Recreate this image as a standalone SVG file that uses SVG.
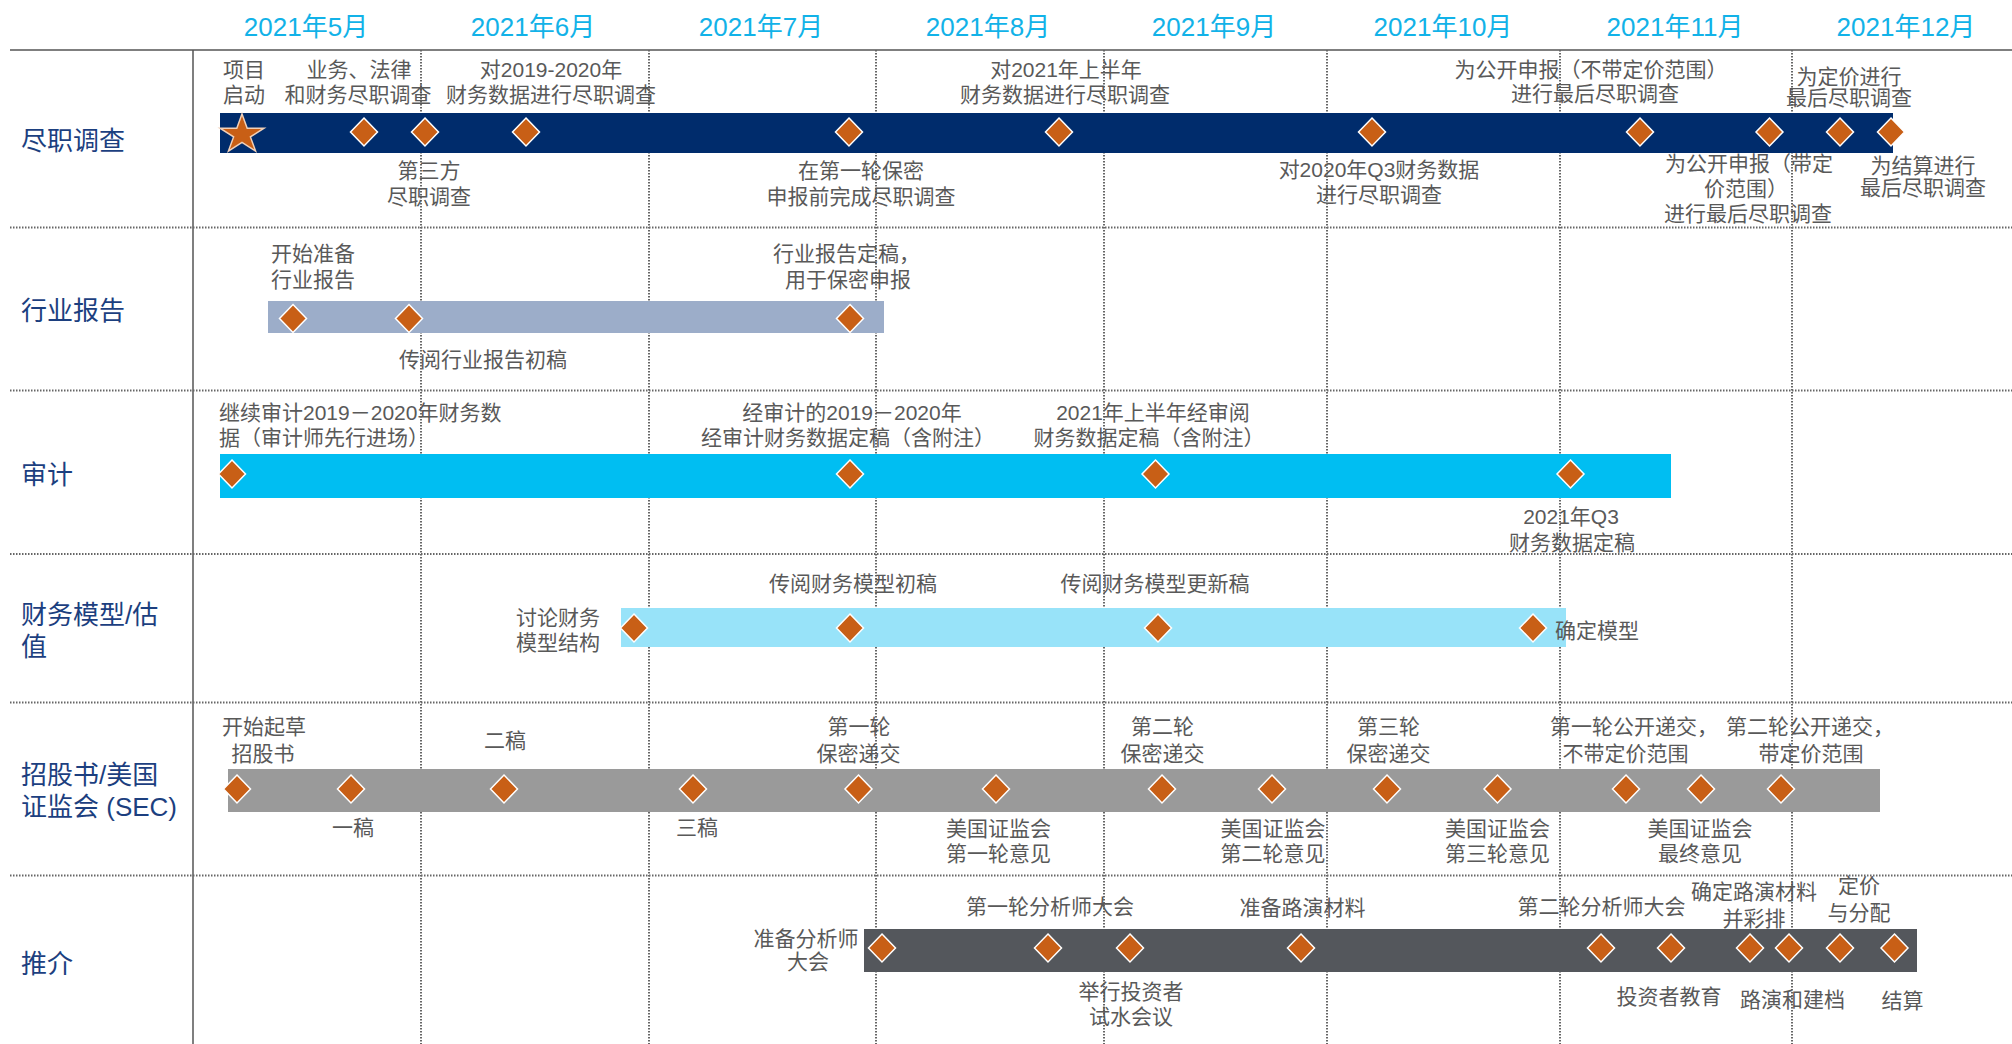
<svg xmlns="http://www.w3.org/2000/svg" xmlns:xlink="http://www.w3.org/1999/xlink" width="2012" height="1044" viewBox="0 0 2012 1044">
<style>
.m{font-family:"Liberation Sans","Noto Sans CJK SC",sans-serif;font-size:26px;fill:#12B2E8;text-anchor:middle}
.r{font-family:"Noto Sans CJK SC",sans-serif;font-size:26px;fill:#1C3F7F}
.rs{font-family:"Liberation Sans","Noto Sans CJK SC",sans-serif;font-size:26px;fill:#1C3F7F}
.t{font-family:"Liberation Sans","Noto Sans CJK SC",sans-serif;font-size:21px;fill:#595959;text-anchor:middle}
.s{text-anchor:start}
.dot{stroke:#666;stroke-width:2;stroke-dasharray:1.5 1.5;fill:none}
</style>
<defs>
<path id="dia" d="M0,-14 L13.5,0 L0,14 L-13.5,0Z" fill="#C85F16" stroke="#FFFFFF" stroke-width="1.5"/>
</defs>
<rect width="2012" height="1044" fill="#FFFFFF"/>

<g id="grid">
<line x1="10" y1="50" x2="2012" y2="50" stroke="#7F7F7F" stroke-width="2"/>
<line x1="193" y1="50" x2="193" y2="1044" stroke="#555" stroke-width="1.5"/>
<line class="dot" x1="421" y1="50" x2="421" y2="1044"/>
<line class="dot" x1="649" y1="50" x2="649" y2="1044"/>
<line class="dot" x1="876" y1="50" x2="876" y2="1044"/>
<line class="dot" x1="1104" y1="50" x2="1104" y2="1044"/>
<line class="dot" x1="1327" y1="50" x2="1327" y2="1044"/>
<line class="dot" x1="1560" y1="50" x2="1560" y2="1044"/>
<line class="dot" x1="1792" y1="50" x2="1792" y2="1044"/>
<line class="dot" x1="10" y1="227.5" x2="2012" y2="227.5"/>
<line class="dot" x1="10" y1="390.5" x2="2012" y2="390.5"/>
<line class="dot" x1="10" y1="554" x2="2012" y2="554"/>
<line class="dot" x1="10" y1="702.5" x2="2012" y2="702.5"/>
<line class="dot" x1="10" y1="875.5" x2="2012" y2="875.5"/>
</g>

<g id="months">
<text class="m" x="306" y="36">2021年5月</text>
<text class="m" x="533" y="36">2021年6月</text>
<text class="m" x="761" y="36">2021年7月</text>
<text class="m" x="988" y="36">2021年8月</text>
<text class="m" x="1214" y="36">2021年9月</text>
<text class="m" x="1443" y="36">2021年10月</text>
<text class="m" x="1675" y="36">2021年11月</text>
<text class="m" x="1906" y="36">2021年12月</text>
</g>

<g id="connectors"></g>

<g id="row-dd">
<text class="r" x="21" y="150">尽职调查</text>
<rect x="220" y="113" width="1673" height="40" fill="#002C6C"/>
<polygon points="242,114 247.2,128.2 264,128.2 250.4,136.9 255.6,151.1 242,142.3 228.4,151.1 233.6,136.9 220,128.2 236.8,128.2" fill="#C85F16" stroke="#F0D0B8" stroke-width="1.5"/>
<use xlink:href="#dia" x="364" y="132"/>
<use xlink:href="#dia" x="425" y="132"/>
<use xlink:href="#dia" x="526" y="132"/>
<use xlink:href="#dia" x="849" y="132"/>
<use xlink:href="#dia" x="1059" y="132"/>
<use xlink:href="#dia" x="1372" y="132"/>
<use xlink:href="#dia" x="1640" y="132"/>
<use xlink:href="#dia" x="1769.5" y="132"/>
<use xlink:href="#dia" x="1840" y="132"/>
<use xlink:href="#dia" x="1891" y="132"/>
<text class="t" x="244" y="77">项目</text>
<text class="t" x="244" y="102">启动</text>
<text class="t" x="359" y="77">业务、法律</text>
<text class="t" x="358" y="102">和财务尽职调查</text>
<text class="t" x="551" y="77">对2019-2020年</text>
<text class="t" x="551" y="102">财务数据进行尽职调查</text>
<text class="t" x="1066" y="77">对2021年上半年</text>
<text class="t" x="1065" y="102">财务数据进行尽职调查</text>
<text class="t" x="1591" y="77">为公开申报（不带定价范围）</text>
<text class="t" x="1595" y="101">进行最后尽职调查</text>
<text class="t" x="1849" y="84">为定价进行</text>
<text class="t" x="1849" y="105">最后尽职调查</text>
<text class="t" x="429" y="178">第三方</text>
<text class="t" x="429" y="204">尽职调查</text>
<text class="t" x="861" y="178">在第一轮保密</text>
<text class="t" x="861" y="204">申报前完成尽职调查</text>
<text class="t" x="1379" y="177">对2020年Q3财务数据</text>
<text class="t" x="1379" y="202">进行尽职调查</text>
<text class="t" x="1749" y="171">为公开申报（带定</text>
<text class="t s" x="1704" y="196">价范围）</text>
<text class="t" x="1748" y="221">进行最后尽职调查</text>
<text class="t" x="1923" y="173">为结算进行</text>
<text class="t" x="1923" y="195">最后尽职调查</text>
</g>

<g id="row-industry">
<text class="r" x="21" y="320">行业报告</text>
<rect x="268" y="301" width="616" height="32" fill="#9CADC9"/>
<use xlink:href="#dia" x="293" y="318.5"/>
<use xlink:href="#dia" x="409" y="318.5"/>
<use xlink:href="#dia" x="850" y="318.5"/>
<text class="t" x="313" y="261">开始准备</text>
<text class="t" x="313" y="287">行业报告</text>
<text class="t s" x="773" y="261">行业报告定稿，</text>
<text class="t s" x="785" y="287">用于保密申报</text>
<text class="t" x="483" y="367">传阅行业报告初稿</text>
</g>

<g id="row-audit">
<text class="r" x="21" y="484">审计</text>
<rect x="220" y="454" width="1451" height="44" fill="#00BEF2"/>
<use xlink:href="#dia" x="232" y="474"/>
<use xlink:href="#dia" x="850" y="474"/>
<use xlink:href="#dia" x="1155.5" y="474"/>
<use xlink:href="#dia" x="1570.5" y="474"/>
<text class="t s" x="219" y="420">继续审计2019－2020年财务数</text>
<text class="t s" x="219" y="445">据（审计师先行进场）</text>
<text class="t" x="852" y="420">经审计的2019－2020年</text>
<text class="t" x="848" y="445">经审计财务数据定稿（含附注）</text>
<text class="t" x="1153" y="420">2021年上半年经审阅</text>
<text class="t" x="1149" y="445">财务数据定稿（含附注）</text>
<text class="t" x="1571" y="524">2021年Q3</text>
<text class="t" x="1572" y="550">财务数据定稿</text>
</g>

<g id="row-model">
<text class="rs" x="21" y="624">财务模型/估</text>
<text class="r" x="21" y="656">值</text>
<rect x="621" y="608" width="945" height="39" fill="#98E3F9"/>
<use xlink:href="#dia" x="634" y="628"/>
<use xlink:href="#dia" x="850" y="628"/>
<use xlink:href="#dia" x="1158" y="628"/>
<use xlink:href="#dia" x="1533" y="628"/>
<text class="t" x="558" y="625">讨论财务</text>
<text class="t" x="558" y="650">模型结构</text>
<text class="t" x="853" y="591">传阅财务模型初稿</text>
<text class="t" x="1155" y="591">传阅财务模型更新稿</text>
<text class="t s" x="1555" y="638">确定模型</text>
</g>

<g id="row-sec">
<text class="rs" x="21" y="784">招股书/美国</text>
<text class="rs" x="21" y="816">证监会 (SEC)</text>
<rect x="228" y="769" width="1652" height="43" fill="#9A9A9A"/>
<use xlink:href="#dia" x="237" y="789"/>
<use xlink:href="#dia" x="351" y="789"/>
<use xlink:href="#dia" x="504" y="789"/>
<use xlink:href="#dia" x="693" y="789"/>
<use xlink:href="#dia" x="858.5" y="789"/>
<use xlink:href="#dia" x="996" y="789"/>
<use xlink:href="#dia" x="1162" y="789"/>
<use xlink:href="#dia" x="1272" y="789"/>
<use xlink:href="#dia" x="1387" y="789"/>
<use xlink:href="#dia" x="1497.5" y="789"/>
<use xlink:href="#dia" x="1626" y="789"/>
<use xlink:href="#dia" x="1701" y="789"/>
<use xlink:href="#dia" x="1781" y="789"/>
<text class="t" x="264" y="734">开始起草</text>
<text class="t" x="263" y="761">招股书</text>
<text class="t" x="505" y="748">二稿</text>
<text class="t" x="859" y="734">第一轮</text>
<text class="t" x="858.5" y="761">保密递交</text>
<text class="t" x="1162.5" y="734">第二轮</text>
<text class="t" x="1162.5" y="761">保密递交</text>
<text class="t" x="1388.5" y="734">第三轮</text>
<text class="t" x="1388.5" y="761">保密递交</text>
<text class="t s" x="1550" y="734">第一轮公开递交，</text>
<text class="t" x="1625.5" y="761">不带定价范围</text>
<text class="t s" x="1726" y="734">第二轮公开递交，</text>
<text class="t" x="1811" y="761">带定价范围</text>
<text class="t" x="353" y="835">一稿</text>
<text class="t" x="697" y="835">三稿</text>
<text class="t" x="998.5" y="836">美国证监会</text>
<text class="t" x="998.5" y="861">第一轮意见</text>
<text class="t" x="1273" y="836">美国证监会</text>
<text class="t" x="1273" y="861">第二轮意见</text>
<text class="t" x="1497.5" y="836">美国证监会</text>
<text class="t" x="1497.5" y="861">第三轮意见</text>
<text class="t" x="1700" y="836">美国证监会</text>
<text class="t" x="1700" y="861">最终意见</text>
</g>

<g id="row-marketing">
<text class="r" x="21" y="973">推介</text>
<rect x="864" y="929" width="1053" height="43" fill="#54575C"/>
<use xlink:href="#dia" x="882" y="948"/>
<use xlink:href="#dia" x="1048" y="948"/>
<use xlink:href="#dia" x="1130" y="948"/>
<use xlink:href="#dia" x="1301" y="948"/>
<use xlink:href="#dia" x="1601" y="948"/>
<use xlink:href="#dia" x="1671" y="948"/>
<use xlink:href="#dia" x="1750" y="948"/>
<use xlink:href="#dia" x="1789" y="948"/>
<use xlink:href="#dia" x="1840" y="948"/>
<use xlink:href="#dia" x="1894.5" y="948"/>
<text class="t" x="806" y="946">准备分析师</text>
<text class="t" x="808" y="969">大会</text>
<text class="t" x="1050" y="914">第一轮分析师大会</text>
<text class="t" x="1302.5" y="915">准备路演材料</text>
<text class="t" x="1601.5" y="914">第二轮分析师大会</text>
<text class="t" x="1754" y="899">确定路演材料</text>
<text class="t" x="1754" y="926">并彩排</text>
<text class="t" x="1859" y="893">定价</text>
<text class="t" x="1859" y="920">与分配</text>
<text class="t" x="1131" y="999">举行投资者</text>
<text class="t" x="1131" y="1024">试水会议</text>
<text class="t" x="1669" y="1004">投资者教育</text>
<text class="t" x="1792.5" y="1007">路演和建档</text>
<text class="t" x="1902.5" y="1008">结算</text>
</g>
</svg>
